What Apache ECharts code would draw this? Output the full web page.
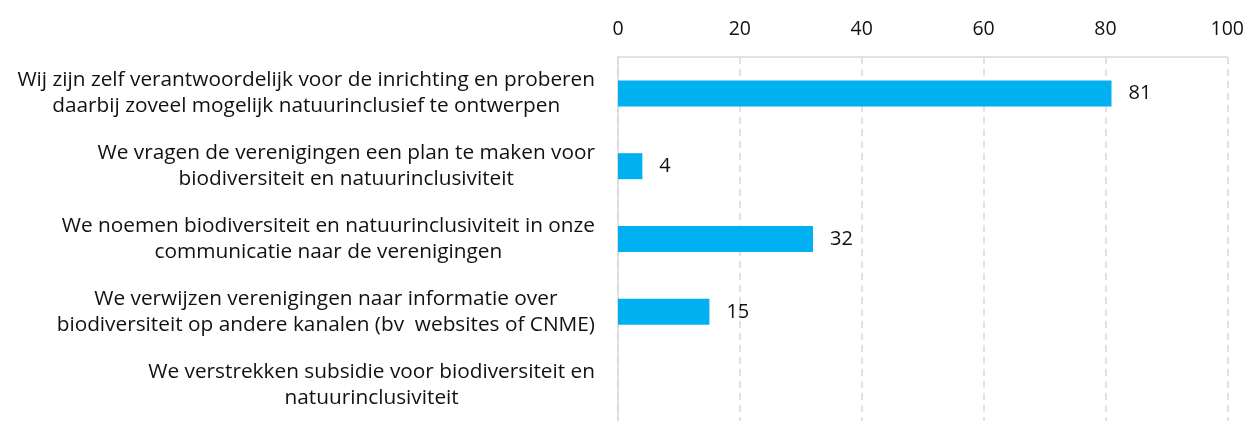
<!DOCTYPE html>
<html>
<head>
<meta charset="utf-8">
<script src="https://cdn.jsdelivr.net/npm/echarts@6/dist/echarts.min.js"></script>
<style>
html,body{margin:0;padding:0;background:#fff;}
#chart{width:1247px;height:421px;}
</style>
</head>
<body>
<div id="chart"></div>
<script>
const categories = [
  "Wij zijn zelf verantwoordelijk voor de inrichting en proberen\ndaarbij zoveel mogelijk natuurinclusief te ontwerpen",
  "We vragen de verenigingen een plan te maken voor\nbiodiversiteit en natuurinclusiviteit",
  "We noemen biodiversiteit en natuurinclusiviteit in onze\ncommunicatie naar de verenigingen",
  "We verwijzen verenigingen naar informatie over\nbiodiversiteit op andere kanalen (bv  websites of CNME)",
  "We verstrekken subsidie voor biodiversiteit en\nnatuurinclusiviteit"
];
const values = [81, 4, 32, 15, 0];
const xTicks = [0, 20, 40, 60, 80, 100];

const FONT = 'Open Sans';
const chart = echarts.init(document.getElementById('chart'));
chart.setOption({
  animation: false,
  backgroundColor: '#ffffff',
  textStyle: { fontFamily: FONT },
  grid: { left: 618, top: 57, width: 610, height: 375, containLabel: false },
  xAxis: {
    type: 'value',
    position: 'top',
    min: xTicks[0],
    max: xTicks[xTicks.length - 1],
    interval: xTicks[1] - xTicks[0],
    axisLine: { show: true, lineStyle: { color: '#d9d9d9', width: 1.5 } },
    axisTick: { show: false },
    axisLabel: { fontFamily: FONT, fontSize: 19.5, color: '#111111', margin: 18 },
    splitLine: { show: true, lineStyle: { color: '#d9d9d9', width: 1.5, type: [7, 5] } }
  },
  yAxis: {
    type: 'category',
    inverse: true,
    data: categories,
    axisLine: { show: true, lineStyle: { color: '#d9d9d9', width: 1.5 } },
    axisTick: { show: false },
    axisLabel: {
      margin: 23,
      align: 'right',
      formatter: function (v) {
        return v.split('\n').map(function (l) { return '{c|' + l + '}'; }).join('\n');
      },
      rich: {
        c: { align: 'center', fontFamily: FONT, fontSize: 20.8, lineHeight: 26, color: '#111111' }
      }
    },
    splitLine: { show: false }
  },
  series: [{
    type: 'bar',
    data: values,
    barWidth: 26,
    itemStyle: { color: '#00B0F0' },
    label: {
      show: true,
      position: 'right',
      distance: 17,
      fontFamily: FONT,
      fontSize: 20,
      color: '#111111',
      formatter: function (p) { return p.value ? String(p.value) : ''; }
    }
  }]
});
</script>
</body>
</html>
